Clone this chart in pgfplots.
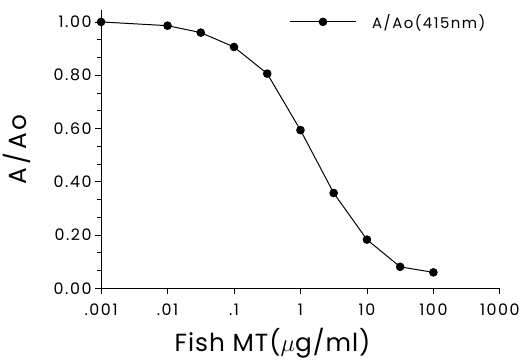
\documentclass[border=0pt]{standalone}
\usepackage{pgfplots}
\pgfplotsset{compat=1.18}
\usepackage{fontspec}
\setmainfont{Poppins}
\newfontfamily\spaced[LetterSpace=10]{Poppins}
\begin{document}
\begin{tikzpicture}[x=1bp,y=1bp]
\path (-100bp,-69bp) rectangle (423bp,290bp);
\begin{axis}[
  at={(0bp,0bp)}, anchor=south west,
  scale only axis,
  width=401bp, height=280bp,
  xmode=log, log basis x=10,
  xmin=0.001, xmax=1000,
  ymin=0, ymax=1.045,
  axis x line=bottom, axis y line=left,
  axis line style={-, line width=1.1pt},
  tick align=outside,
  major tick length=6bp, minor tick length=4bp,
  every tick/.style={black, line width=0.8pt},
  xtick={0.001,0.01,0.1,1,10,100,1000},
  xticklabels={.001,.01,.1,1,10,100,1000},
  ytick={0,0.2,0.4,0.6,0.8,1.0},
  minor y tick num=2,
  yticklabel style={/pgf/number format/.cd, fixed, fixed zerofill, precision=2},
  xticklabel style={yshift=-6bp},
  /pgf/number format/assume math mode=true,
  tick label style={font=\spaced\fontsize{16}{18}\selectfont},
  xlabel={Fish MT($\mu$g/ml)},
  ylabel={A/Ao},
  xlabel style={font=\fontsize{25}{28}\selectfont\addfontfeatures{LetterSpace=4}, at={(axis description cs:0.43,0)}, anchor=north, yshift=-36bp},
  ylabel style={font=\fontsize{25}{28}\selectfont\addfontfeatures{LetterSpace=12}, yshift=16bp},
  legend style={draw=none, fill=none, at={(rel axis cs:0.465,1.0)}, anchor=north west, font=\spaced\fontsize{15}{17}\selectfont,
    /tikz/every odd column/.append style={column sep=14bp}},
  legend cell align=left,
  legend image code/.code={\draw[mark repeat=2,mark phase=2,#1] plot coordinates {(0bp,0bp) (33bp,0bp) (66bp,0bp)};},
  clip=false,
]
\addplot[black, line width=1pt, mark=*, mark size=3.8bp] coordinates {
 (0.001,1.00) (0.01,0.986) (0.0316,0.960) (0.1,0.906) (0.316,0.806)
 (1,0.594) (3.16,0.358) (10,0.183) (31.6,0.081) (100,0.060)
};
\addlegendentry{A/Ao(415nm)}
\end{axis}
\end{tikzpicture}
\end{document}
